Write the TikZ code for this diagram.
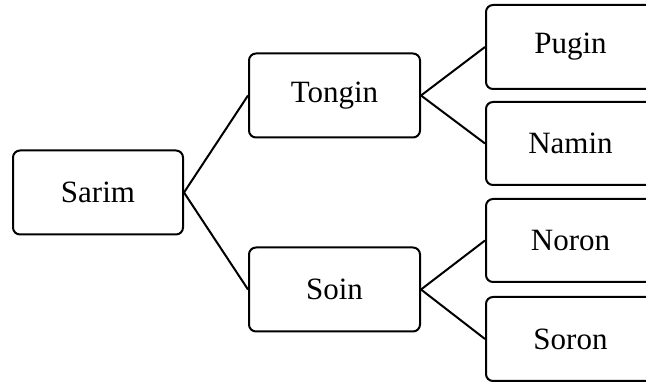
\documentclass[tikz,border=0pt]{standalone}
\usepackage{fontspec}
\setmainfont{Liberation Serif}
\begin{document}
\begin{tikzpicture}[x=1pt,y=1pt,
  box/.style={draw=black, line width=2pt, rounded corners=7pt, fill=white,
    minimum width=170pt, minimum height=84pt, inner sep=0pt,
    font=\fontsize{31}{37}\selectfont},
  conn/.style={draw=black, line width=2pt}]
\useasboundingbox (0,0) rectangle (646,382);
\clip (0,0) rectangle (646,382);
\node[box] (sarim) at (98,189.5) {Sarim};
\node[box, minimum width=171pt] (tongin) at (334.5,286.5) {Tongin};
\node[box, minimum width=171pt] (soin) at (334.5,92.5) {Soin};
\node[box, minimum width=169pt] (pugin) at (570.5,335) {Pugin};
\node[box, minimum width=169pt, minimum height=83pt] (namin) at (570.5,238.5) {Namin};
\node[box, minimum width=169pt, minimum height=83pt] (noron) at (570.5,141.5) {Noron};
\node[box, minimum width=169pt] (soron) at (570.5,43) {Soron};
\draw[conn] (sarim.east) -- (tongin.west);
\draw[conn] (sarim.east) -- (soin.west);
\draw[conn] (tongin.east) -- (pugin.west);
\draw[conn] (tongin.east) -- (namin.west);
\draw[conn] (soin.east) -- (noron.west);
\draw[conn] (soin.east) -- (soron.west);
\end{tikzpicture}
\end{document}
